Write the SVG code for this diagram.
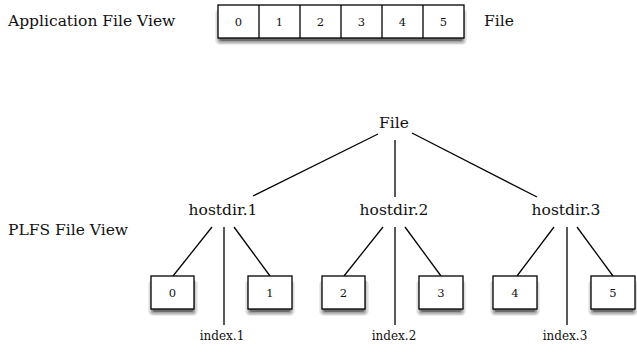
<svg xmlns="http://www.w3.org/2000/svg" width="637" height="348" viewBox="0 0 637 348">
<style>
text{fill:#111;font-family:"DejaVu Serif",serif}
.lbl{font-size:15.5px}
.node{font-size:15.5px;text-anchor:middle}
.idx{font-size:12px;text-anchor:middle}
.num{font-size:11.5px;text-anchor:middle}
.box{fill:#fff;stroke:#000;stroke-width:1.3}
.ln{stroke:#000;stroke-width:1.3;fill:none}
.s0{fill:#ececec}
.s1{fill:#cfcfcf}
.s2{fill:#a4a4a4}
.s3{fill:#6e6e6e}
</style>
<defs>
<g id="shadow44">
<rect class="s0" x="-3" y="4" width="50" height="36" rx="5"/>
<rect class="s1" x="-1.5" y="4" width="47" height="35" rx="4"/>
<rect class="s2" x="0" y="4" width="44" height="33.5" rx="3"/>
<rect class="s3" x="1.5" y="4" width="41" height="32" rx="2"/>
</g>
</defs>
<g id="app-label"><text class="lbl" x="8" y="26">Application File View</text></g>
<g id="app-file">
<rect class="s0" x="215" y="9" width="252" height="36" rx="5"/>
<rect class="s1" x="216.5" y="9" width="249" height="35" rx="4"/>
<rect class="s2" x="218" y="9" width="246" height="33.5" rx="3"/>
<rect class="s3" x="219.5" y="9" width="243" height="32" rx="2"/>
<rect class="box" x="218" y="5" width="246" height="33"/>
<line class="ln" x1="259" y1="5" x2="259" y2="38"/>
<line class="ln" x1="300" y1="5" x2="300" y2="38"/>
<line class="ln" x1="341" y1="5" x2="341" y2="38"/>
<line class="ln" x1="382" y1="5" x2="382" y2="38"/>
<line class="ln" x1="423" y1="5" x2="423" y2="38"/>
<text class="num" x="238.5" y="25.5">0</text>
<text class="num" x="279.5" y="25.5">1</text>
<text class="num" x="320.5" y="25.5">2</text>
<text class="num" x="361.5" y="25.5">3</text>
<text class="num" x="402.5" y="25.5">4</text>
<text class="num" x="443.5" y="25.5">5</text>
</g>
<g id="app-file-label"><text class="lbl" x="484" y="26">File</text></g>
<g id="plfs-label"><text class="lbl" x="8" y="235">PLFS File View</text></g>
<g id="connectors">
<line class="ln" x1="378" y1="134" x2="253" y2="196"/>
<line class="ln" x1="395" y1="140" x2="395" y2="197"/>
<line class="ln" x1="412" y1="133" x2="537" y2="197"/>
<line class="ln" x1="212" y1="227" x2="173" y2="276"/>
<line class="ln" x1="224" y1="227" x2="224" y2="325"/>
<line class="ln" x1="234" y1="227" x2="270" y2="276"/>
<line class="ln" x1="383" y1="227" x2="344" y2="276"/>
<line class="ln" x1="395" y1="227" x2="395" y2="325"/>
<line class="ln" x1="405" y1="227" x2="441" y2="276"/>
<line class="ln" x1="554" y1="227" x2="517" y2="276"/>
<line class="ln" x1="567" y1="227" x2="567" y2="325"/>
<line class="ln" x1="577" y1="227" x2="613" y2="276"/>
</g>
<g id="file"><text class="node" x="394" y="128">File</text></g>
<g id="hostdir1"><text class="node" x="223" y="215">hostdir.1</text></g>
<g id="hostdir2"><text class="node" x="394" y="215">hostdir.2</text></g>
<g id="hostdir3"><text class="node" x="566" y="215">hostdir.3</text></g>
<g id="block0"><use href="#shadow44" x="151" y="276"/><rect class="box" x="151" y="276" width="43" height="33"/><text class="num" x="172.5" y="297">0</text></g>
<g id="block1"><use href="#shadow44" x="248" y="276"/><rect class="box" x="248" y="276" width="44" height="33"/><text class="num" x="270" y="297">1</text></g>
<g id="block2"><use href="#shadow44" x="322" y="276"/><rect class="box" x="322" y="276" width="43" height="33"/><text class="num" x="343.5" y="297">2</text></g>
<g id="block3"><use href="#shadow44" x="419" y="276"/><rect class="box" x="419" y="276" width="44" height="33"/><text class="num" x="441" y="297">3</text></g>
<g id="block4"><use href="#shadow44" x="493" y="276"/><rect class="box" x="493" y="276" width="44" height="33"/><text class="num" x="515" y="297">4</text></g>
<g id="block5"><use href="#shadow44" x="591" y="276"/><rect class="box" x="591" y="276" width="44" height="33"/><text class="num" x="613" y="297">5</text></g>
<g id="index1"><text class="idx" x="222" y="340">index.1</text></g>
<g id="index2"><text class="idx" x="394" y="340">index.2</text></g>
<g id="index3"><text class="idx" x="565" y="340">index.3</text></g>
</svg>
